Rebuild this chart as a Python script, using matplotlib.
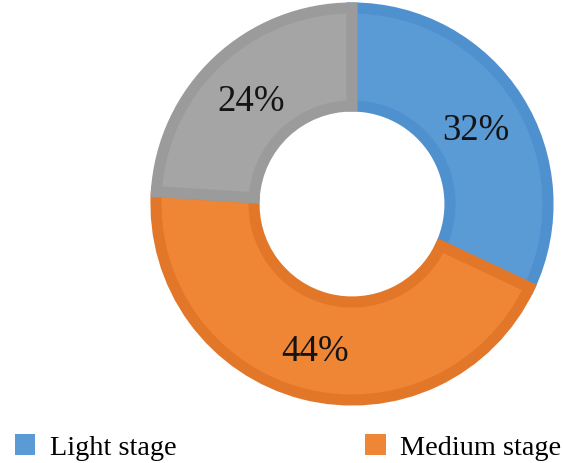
import matplotlib
matplotlib.use("Agg")
import matplotlib.pyplot as plt
from matplotlib.patches import Patch

labels = ["Light stage", "Medium stage", "Severe stage"]
values = [32, 44, 24]
fills = ["#5B9BD5", "#EF8636", "#A5A5A5"]
edges = ["#4F90CF", "#E2772A", "#9B9B9B"]

W, H = 563, 464
fig = plt.figure(figsize=(W / 100, H / 100), dpi=100)
ax = fig.add_axes([0, 0, 1, 1])
cx, cy, R = 352, 205, 196

wedges, texts, autotexts = ax.pie(
    values, colors=fills, startangle=90, counterclock=False,
    autopct="%d%%", pctdistance=0.75, radius=1.0,
    wedgeprops=dict(width=0.5, linewidth=0),
    textprops=dict(family="Liberation Serif", fontsize=26.5, color="#141414"),
)
ax.set_aspect("auto")
ax.set_xlim((0 - cx) / R, (W - cx) / R)
ax.set_ylim((cy - H) / R, cy / R)
ax.axis("off")

for w, ec in zip(wedges, edges):
    w.set_edgecolor(ec)
    w.set_linewidth(8.0)
    w.set_clip_path(w)
for t in autotexts:
    x, y = t.get_position()
    t.set_position((x, y - 0.022))
    t.set_va("center")

handles = [Patch(facecolor=fills[i], edgecolor="none") for i in range(2)]
fig.legend(handles, labels[:2], loc="center left",
           bbox_to_anchor=(15 / W, 1 - 448 / H),
           ncol=2, frameon=False, prop=dict(family="Liberation Serif", size=20.3),
           handlelength=0.71, handleheight=0.75, handletextpad=0.53,
           columnspacing=6.7, borderpad=0, borderaxespad=0)

fig.savefig("out.png", dpi=100)
